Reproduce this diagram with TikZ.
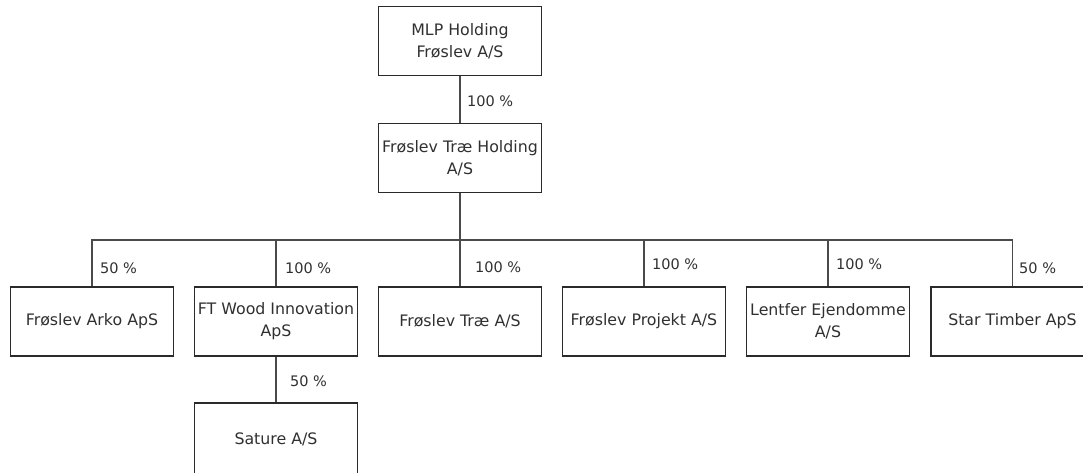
\documentclass[tikz,border=0pt]{standalone}
\usepackage{fontspec}
\setmainfont{DejaVu Sans}
\definecolor{boxline}{HTML}{2A2A2A}
\definecolor{conline}{HTML}{4A4A4A}
\definecolor{txt}{HTML}{303030}
\begin{document}
\begin{tikzpicture}[x=1pt,y=1pt,
  org/.style={draw=boxline,line width=1.1pt,minimum width=163pt,minimum height=69pt,
    inner sep=0pt,align=center,text=txt,font=\fontsize{15.8}{22}\selectfont},
  pct/.style={anchor=west,inner sep=0pt,text=txt,font=\fontsize{14.5}{16}\selectfont},
  con/.style={draw=conline,line width=1.1pt}]
\useasboundingbox (0,0) rectangle (1083,-472);
\clip (0,0) rectangle (1083,-472);
\node[org] (mlp) at (460,-41) {MLP Holding\\Frøslev A/S};
\node[org] (hold) at (460,-158) {Frøslev Træ Holding\\A/S};
\node[org] (arko) at (92,-321.5) {Frøslev Arko ApS};
\node[org] (ftw) at (276,-321.5) {FT Wood Innovation\\ApS};
\node[org] (trae) at (460,-321.5) {Frøslev Træ A/S};
\node[org] (proj) at (644,-321.5) {Frøslev Projekt A/S};
\node[org] (lent) at (828,-321.5) {Lentfer Ejendomme\\A/S};
\node[org] (star) at (1012.5,-321.5) {Star Timber ApS};
\node[org,minimum height=73pt] (sat) at (276,-439.5) {Sature A/S};
\coordinate (bar) at (460,-240);
\draw[con] (mlp.south) -- (hold.north);
\draw[con] (hold.south) -- (bar);
\foreach \c in {arko,ftw,trae,proj,lent,star}{\draw[con] (bar) -| (\c.north);}
\draw[con] (ftw.south) -- (sat.north);
\node[pct] (p0) at (467,-101) {100 \%};
\node[pct] (p1) at (100,-268) {50 \%};
\node[pct] (p2) at (285,-268) {100 \%};
\node[pct] (p3) at (475,-267) {100 \%};
\node[pct] (p4) at (652,-264) {100 \%};
\node[pct] (p5) at (836,-264) {100 \%};
\node[pct] (p6) at (1019,-268) {50 \%};
\node[pct] (p7) at (290,-381) {50 \%};
\end{tikzpicture}
\end{document}
